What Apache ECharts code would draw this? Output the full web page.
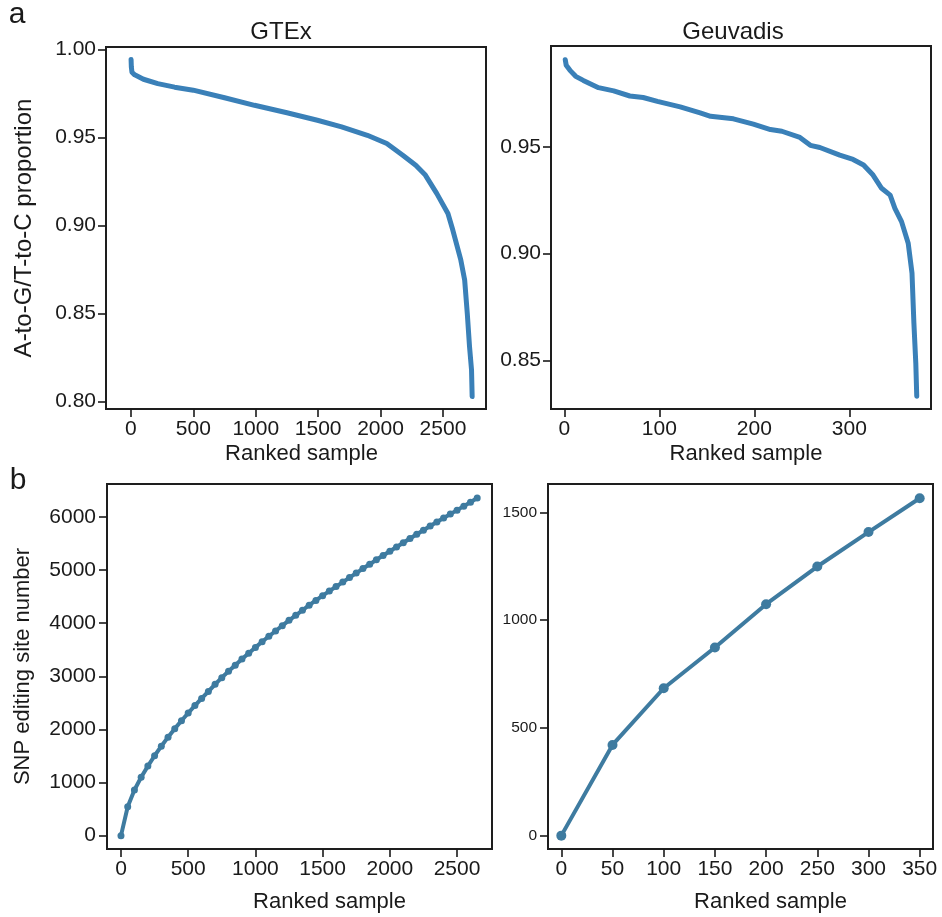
<!DOCTYPE html>
<html>
<head>
<meta charset="utf-8">
<script src="https://cdn.jsdelivr.net/npm/echarts@6/dist/echarts.min.js"></script>
<style>
  html, body { margin: 0; padding: 0; background: #ffffff; }
  #chart { width: 942px; height: 917px; }
</style>
</head>
<body>
<div id="chart"></div>
<script>
// Panel a: A-to-G/T-to-C proportion against ranked sample
const gtexRank = [1, 3, 8, 30, 100, 215, 350, 499, 750, 990, 1250, 1494, 1688, 1894, 2050, 2178, 2282, 2359, 2450, 2540, 2579, 2643, 2674, 2695, 2713, 2729, 2734];
const gtexProp = [0.9942, 0.990, 0.987, 0.9855, 0.983, 0.9805, 0.9785, 0.9768, 0.9725, 0.9682, 0.9640, 0.9597, 0.9560, 0.9512, 0.9465, 0.9399, 0.9342, 0.9286, 0.9182, 0.9068, 0.8974, 0.8804, 0.8690, 0.8501, 0.8312, 0.8180, 0.8029];

const geuvRank = [1, 2, 6, 12, 20, 36, 52, 69, 83, 98, 122, 143, 154, 178, 199, 217, 229, 248, 259, 269, 290, 304, 315, 325, 334, 343, 348, 355, 362, 366, 368, 370, 371];
const geuvProp = [0.9908, 0.9882, 0.9858, 0.983, 0.9811, 0.9777, 0.9762, 0.9738, 0.9731, 0.9713, 0.9687, 0.9659, 0.9643, 0.9631, 0.9606, 0.9581, 0.9573, 0.9544, 0.9507, 0.9497, 0.9461, 0.9441, 0.9415, 0.9368, 0.9306, 0.9274, 0.9212, 0.9150, 0.9049, 0.8909, 0.8675, 0.8488, 0.8333];

// Panel b: cumulative SNP editing sites as samples are added
const gtexSamples = [0, 50, 100, 150, 200, 250, 300, 350, 400, 450, 500, 550, 600, 650, 700, 750, 800, 850, 900, 950, 1000, 1050, 1100, 1150, 1200, 1250, 1300, 1350, 1400, 1450, 1500, 1550, 1600, 1650, 1700, 1750, 1800, 1850, 1900, 1950, 2000, 2050, 2100, 2150, 2200, 2250, 2300, 2350, 2400, 2450, 2500, 2550, 2600, 2650];
const gtexSites = [0, 546, 861, 1100, 1310, 1505, 1685, 1855, 2015, 2165, 2310, 2450, 2585, 2715, 2850, 2975, 3095, 3210, 3325, 3435, 3545, 3650, 3755, 3855, 3955, 4055, 4150, 4245, 4340, 4430, 4520, 4605, 4690, 4775, 4860, 4945, 5030, 5110, 5195, 5275, 5355, 5435, 5515, 5595, 5675, 5750, 5830, 5905, 5980, 6055, 6130, 6205, 6280, 6358];

const geuvSamples = [0, 50, 100, 150, 200, 250, 300, 350];
const geuvSites = [0, 421, 684, 873, 1074, 1249, 1409, 1566];

// Tick positions
const propTicksGtex = [0.80, 0.85, 0.90, 0.95, 1.00];
const propTicksGeuv = [0.85, 0.90, 0.95];
const rankTicksGtex = [0, 500, 1000, 1500, 2000, 2500];
const rankTicksGeuv = [0, 100, 200, 300];
const siteTicksGtex = [0, 1000, 2000, 3000, 4000, 5000, 6000];
const siteTicksGeuv = [0, 500, 1000, 1500];
const sampleTicksGeuv = [0, 50, 100, 150, 200, 250, 300, 350];

const FONT = '"Liberation Sans", Arial, Helvetica, sans-serif';
const INK = '#1a1a1a';
const TOP_BLUE = '#3a80b8';
const BOTTOM_BLUE = '#3e7ba0';

function zip(xs, ys) { return xs.map((x, i) => [x, ys[i]]); }

function valueAxis(gridIndex, min, max, ticks, opts) {
  opts = opts || {};
  return {
    type: 'value',
    gridIndex: gridIndex,
    min: min,
    max: max,
    splitLine: { show: false },
    axisLine: { show: false, onZero: false },
    axisTick: {
      show: true, inside: false, length: opts.tickLen || 8,
      customValues: ticks,
      lineStyle: { color: INK, width: 1.6 }
    },
    axisLabel: {
      customValues: ticks,
      color: INK,
      fontFamily: FONT,
      fontSize: opts.fontSize || 21,
      margin: opts.margin || 10,
      formatter: opts.formatter || (v => String(v))
    },
    name: opts.name,
    nameLocation: 'middle',
    nameGap: opts.nameGap,
    nameTextStyle: opts.name ? {
      color: INK, fontFamily: FONT, fontSize: opts.nameSize || 22,
      padding: opts.namePadding || 0
    } : undefined
  };
}

const gridStyle = { show: true, borderColor: '#1e1e1e', borderWidth: 2, backgroundColor: 'transparent' };

const fmt2 = v => v.toFixed(2);

const option = {
  animation: false,
  backgroundColor: '#ffffff',
  grid: [
    Object.assign({ left: 106, top: 47, width: 380, height: 362 }, gridStyle),
    Object.assign({ left: 551, top: 46, width: 380, height: 363 }, gridStyle),
    Object.assign({ left: 107, top: 484, width: 385, height: 365 }, gridStyle),
    Object.assign({ left: 548, top: 484, width: 385, height: 365 }, gridStyle)
  ],
  xAxis: [
    valueAxis(0, -200, 2845, rankTicksGtex, { name: 'Ranked sample', nameGap: 34, namePadding: [0, 0, 0, 11] }),
    valueAxis(1, -14, 386, rankTicksGeuv, { name: 'Ranked sample', nameGap: 34, namePadding: [0, 0, 0, 10] }),
    valueAxis(2, -104, 2760, rankTicksGtex, { name: 'Ranked sample', nameGap: 42, namePadding: [0, 0, 0, 60] }),
    valueAxis(3, -13, 363, sampleTicksGeuv, { name: 'Ranked sample', nameGap: 42, namePadding: [0, 0, 0, 60] })
  ],
  yAxis: [
    valueAxis(0, 0.7958, 1.0013, propTicksGtex, { formatter: fmt2, name: 'A-to-G/T-to-C proportion', nameGap: 70, nameSize: 24 }),
    valueAxis(1, 0.8273, 0.9972, propTicksGeuv, { formatter: fmt2 }),
    valueAxis(2, -251, 6622, siteTicksGtex, { name: 'SNP editing site number', nameGap: 73, nameSize: 22, margin: 11 }),
    valueAxis(3, -62, 1632, siteTicksGeuv, { fontSize: 15.5, margin: 11 })
  ],
  series: [
    {
      type: 'line', xAxisIndex: 0, yAxisIndex: 0,
      data: zip(gtexRank, gtexProp),
      showSymbol: false, symbol: 'none',
      lineStyle: { color: TOP_BLUE, width: 5, cap: 'round', join: 'round' }
    },
    {
      type: 'line', xAxisIndex: 1, yAxisIndex: 1,
      data: zip(geuvRank, geuvProp),
      showSymbol: false, symbol: 'none',
      lineStyle: { color: TOP_BLUE, width: 5, cap: 'round', join: 'round' }
    },
    {
      type: 'line', xAxisIndex: 2, yAxisIndex: 2,
      data: zip(gtexSamples, gtexSites),
      symbol: 'circle', symbolSize: 7, showSymbol: true,
      itemStyle: { color: BOTTOM_BLUE },
      lineStyle: { color: BOTTOM_BLUE, width: 4, cap: 'round', join: 'round' }
    },
    {
      type: 'line', xAxisIndex: 3, yAxisIndex: 3,
      data: zip(geuvSamples, geuvSites),
      symbol: 'circle', symbolSize: 10, showSymbol: true,
      itemStyle: { color: BOTTOM_BLUE },
      lineStyle: { color: BOTTOM_BLUE, width: 4, cap: 'round', join: 'round' }
    }
  ],
  graphic: [
    { type: 'text', x: 17, y: 15, style: { text: 'a', font: '30px ' + FONT, fill: INK, align: 'center', verticalAlign: 'middle' } },
    { type: 'text', x: 18, y: 481, style: { text: 'b', font: '30px ' + FONT, fill: INK, align: 'center', verticalAlign: 'middle' } },
    { type: 'text', x: 281, y: 32, style: { text: 'GTEx', font: '24px ' + FONT, fill: INK, align: 'center', verticalAlign: 'middle' } },
    { type: 'text', x: 733, y: 32, style: { text: 'Geuvadis', font: '24px ' + FONT, fill: INK, align: 'center', verticalAlign: 'middle' } }
  ]
};

const chart = echarts.init(document.getElementById('chart'), null, { renderer: 'canvas' });
chart.setOption(option);
</script>
</body>
</html>
